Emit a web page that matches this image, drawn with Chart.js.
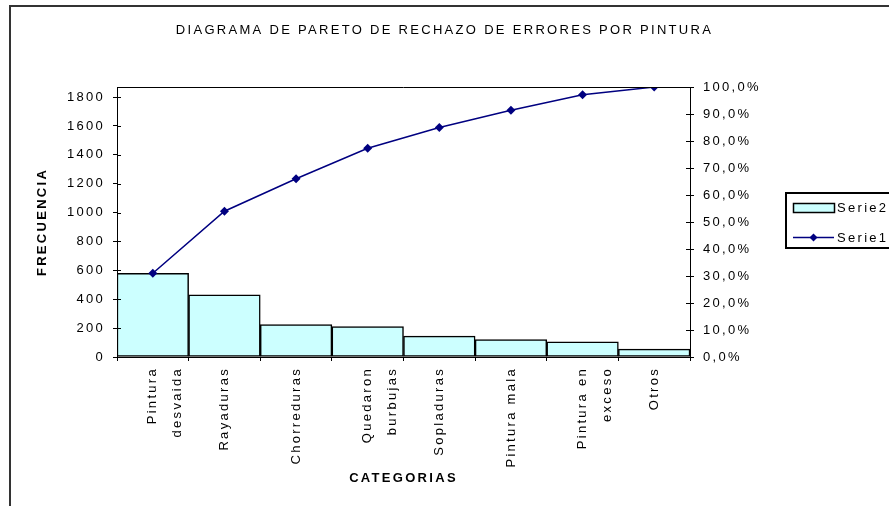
<!DOCTYPE html>
<html>
<head>
<meta charset="utf-8">
<script src="https://cdn.jsdelivr.net/npm/chart.js@4"></script>
<style>
  body { margin: 0; background: #fff; }
  #paretoChart { display: block; }
</style>
</head>
<body>
<canvas id="paretoChart" width="889" height="506"></canvas>
<script>
const categories = [
  ['Pintura', 'desvaida'],
  'Rayaduras',
  'Chorreduras',
  ['Quedaron', 'burbujas'],
  'Sopladuras',
  'Pintura mala',
  ['Pintura en', 'exceso'],
  'Otros'
];
const frequencies = [580, 430, 225, 210, 145, 120, 105, 55];
const cumulativePct = [0.310, 0.540, 0.660, 0.773, 0.850, 0.914, 0.971, 1.000];
const freqAxisMax = 1870;
const freqTicks = [0, 200, 400, 600, 800, 1000, 1200, 1400, 1600, 1800];

const FONT = '"Liberation Sans", Arial, sans-serif';

Chart.defaults.font.family = FONT;
Chart.defaults.font.size = 13;
Chart.defaults.color = '#000';

// wide letter spacing + outer frame
const framePlugin = {
  id: 'frame',
  beforeDraw(chart) {
    const ctx = chart.ctx;
    ctx.save();
    ctx.strokeStyle = '#333';
    ctx.lineWidth = 2;
    ctx.beginPath();
    ctx.moveTo(10, 506);
    ctx.lineTo(10, 6);
    ctx.lineTo(889, 6);
    ctx.stroke();
    ctx.restore();
    ctx.letterSpacing = '2.3px';
  },
  afterDraw(chart) {
    const ctx = chart.ctx;
    const a = chart.chartArea;
    ctx.save();
    ctx.strokeStyle = '#000';
    ctx.lineWidth = 1;
    // top edge of plot box
    ctx.beginPath();
    ctx.moveTo(a.left, Math.round(a.top) + 0.5);
    ctx.lineTo(a.right, Math.round(a.top) + 0.5);
    ctx.stroke();
    // inner halves of the value-axis ticks
    const y = chart.scales.y, y1 = chart.scales.y1;
    ctx.beginPath();
    y.ticks.forEach((t, i) => {
      const py = Math.round(y.getPixelForTick(i)) + 0.5;
      ctx.moveTo(a.left, py);
      ctx.lineTo(a.left + 4, py);
    });
    y1.ticks.forEach((t, i) => {
      const py = Math.round(y1.getPixelForTick(i)) + 0.5;
      ctx.moveTo(a.right - 4, py);
      ctx.lineTo(a.right, py);
    });
    ctx.stroke();

    // legend box
    const lx = 786, ly = 193;
    ctx.strokeStyle = '#000';
    ctx.lineWidth = 2;
    ctx.strokeRect(lx, ly, 120, 55);
    const bar = chart.data.datasets[1];
    const line = chart.data.datasets[0];
    ctx.fillStyle = bar.backgroundColor;
    ctx.fillRect(793, 203, 41, 9);
    ctx.lineWidth = 1.5;
    ctx.strokeRect(793.5, 203.5, 41, 9);
    ctx.strokeStyle = line.borderColor;
    ctx.lineWidth = 1.5;
    ctx.beginPath();
    ctx.moveTo(793, 237.5);
    ctx.lineTo(834, 237.5);
    ctx.stroke();
    ctx.fillStyle = line.borderColor;
    ctx.beginPath();
    ctx.moveTo(813.5, 233.5);
    ctx.lineTo(817.5, 237.5);
    ctx.lineTo(813.5, 241.5);
    ctx.lineTo(809.5, 237.5);
    ctx.closePath();
    ctx.fill();
    ctx.fillStyle = '#000';
    ctx.font = '13px ' + FONT;
    ctx.textBaseline = 'middle';
    ctx.fillText(bar.label, 837, 208);
    ctx.fillText(line.label, 837, 238);
    ctx.restore();
  }
};

new Chart(document.getElementById('paretoChart'), {
  type: 'bar',
  data: {
    labels: categories,
    datasets: [
      {
        type: 'line',
        label: 'Serie1',
        data: cumulativePct,
        yAxisID: 'y1',
        borderColor: '#000080',
        backgroundColor: '#000080',
        borderWidth: 1.5,
        pointStyle: 'rectRot',
        pointRadius: 4.5,
        pointBackgroundColor: '#000080',
        pointBorderWidth: 0,
        tension: 0,
        order: 0
      },
      {
        type: 'bar',
        label: 'Serie2',
        data: frequencies,
        yAxisID: 'y',
        backgroundColor: '#ccffff',
        borderColor: '#000',
        borderWidth: 1.5,
        borderSkipped: false,
        barPercentage: 1,
        categoryPercentage: 1,
        order: 1
      }
    ]
  },
  options: {
    responsive: false,
    animation: false,
    layout: { padding: 0 },
    plugins: {
      legend: { display: false },
      tooltip: { enabled: false },
      title: {
        display: true,
        text: 'DIAGRAMA DE PARETO DE RECHAZO DE ERRORES POR PINTURA',
        color: '#000',
        font: { size: 13, weight: 'normal' },
        padding: { top: 23, bottom: 48.4 }
      }
    },
    scales: {
      x: {
        offset: true,
        grid: { display: true, offset: true, drawOnChartArea: false, color: '#000', tickLength: 4 },
        border: { color: '#000', width: 1 },
        ticks: {
          autoSkip: false,
          minRotation: 90,
          maxRotation: 90,
          padding: 6,
          font: { size: 13, lineHeight: 1.9 }
        },
        title: {
          display: true,
          text: 'CATEGORIAS',
          font: { size: 13, weight: 'bold' },
          padding: { top: 0, bottom: 20 }
        },
        afterFit(scale) { scale.height = 149; }
      },
      y: {
        position: 'left',
        min: 0,
        max: freqAxisMax,
        afterBuildTicks(scale) { scale.ticks = freqTicks.map(v => ({ value: v })); },
        grid: { drawOnChartArea: false, color: '#000', tickLength: 4 },
        border: { color: '#000', width: 1 },
        ticks: { padding: 8, font: { size: 13 }, callback: v => String(v) },
        title: {
          display: true,
          text: 'FRECUENCIA',
          font: { size: 13, weight: 'bold' },
          padding: { top: 35, bottom: 0 }
        },
        afterFit(scale) { scale.width = 117; }
      },
      y1: {
        position: 'right',
        min: 0,
        max: 1,
        grid: { drawOnChartArea: false, color: '#000', tickLength: 4 },
        border: { color: '#000', width: 1 },
        ticks: {
          stepSize: 0.1,
          padding: 9,
          font: { size: 13 },
          callback: v => (v * 100).toFixed(1).replace('.', ',') + '%'
        },
        afterFit(scale) { scale.width = 199; }
      }
    }
  },
  plugins: [framePlugin]
});
</script>
</body>
</html>
